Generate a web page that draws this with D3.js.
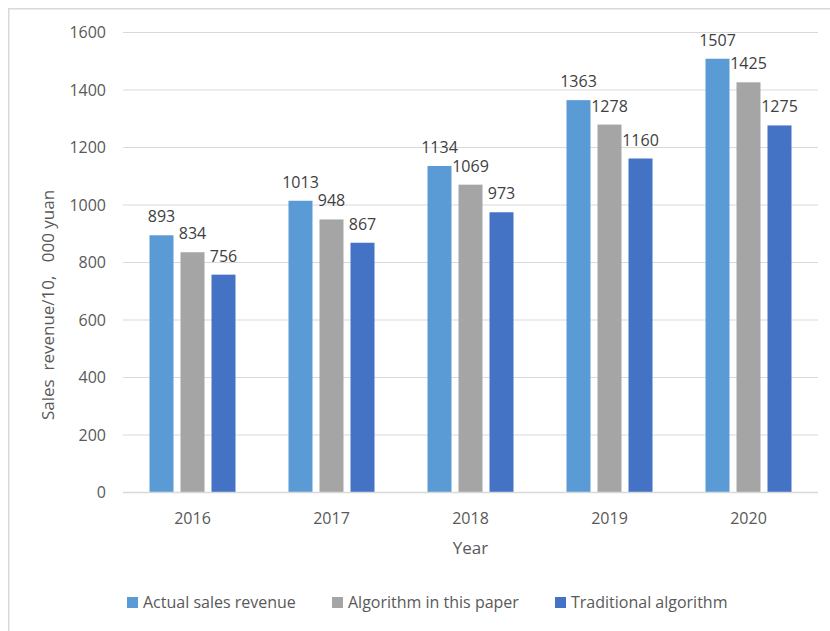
<!DOCTYPE html>
<html><head><meta charset="utf-8">
<script src="https://cdn.jsdelivr.net/npm/d3@7"></script>
<style>body{margin:0;background:#fff;} svg{display:block;font-family:"Open Sans",sans-serif;}</style>
</head><body>
<svg id="c" width="830" height="631"></svg>
<script>
const years = ["2016","2017","2018","2019","2020"];
const seriesNames = ["Actual sales revenue","Algorithm in this paper","Traditional algorithm"];
const actual = [893,1013,1134,1363,1507];
const algorithm = [834,948,1069,1278,1425];
const traditional = [756,867,973,1160,1275];
const yTicks = [0,200,400,600,800,1000,1200,1400,1600];
const colors = ["#5B9BD5","#A5A5A5","#4472C4"];

const seriesValues = [actual, algorithm, traditional];
const svg = d3.select("#c");
// chart frame
svg.append("rect").attr("x",8.75).attr("y",8.75).attr("width",900).attr("height",700)
  .attr("fill","none").attr("stroke","#d9d9d9").attr("stroke-width",1.5);

const pLeft=123, pRight=818, pTop=32, pBottom=492;
const y = d3.scaleLinear().domain([0,1600]).range([pBottom,pTop]);
const p = 53/139;
const x0 = d3.scaleBand().domain(years).range([pLeft,pRight]).paddingInner(p).paddingOuter(p/2);
const x1 = d3.scaleBand().domain(seriesNames).range([0,x0.bandwidth()]).paddingInner(0.226);

// gridlines
svg.append("g").selectAll("line").data(yTicks).join("line")
  .attr("x1",pLeft).attr("x2",pRight).attr("y1",d=>y(d)+0.5).attr("y2",d=>y(d)+0.5)
  .attr("stroke","#d9d9d9").attr("stroke-width",1);
// y tick labels
svg.append("g").selectAll("text").data(yTicks).join("text")
  .attr("x",106).attr("y",d=>y(d)+6).attr("text-anchor","end")
  .attr("font-size",16).attr("fill","#595959").text(d=>d);

// bars
const groups = svg.append("g").selectAll("g").data(years).join("g")
  .attr("transform",d=>`translate(${x0(d)},0)`);
groups.selectAll("rect").data((d,i)=>seriesNames.map((s,j)=>({s,j,v:seriesValues[j][i]}))).join("rect")
  .attr("x",d=>x1(d.s)).attr("width",x1.bandwidth())
  .attr("y",d=>y(d.v)).attr("height",d=>pBottom-y(d.v))
  .attr("fill",d=>colors[d.j]);
groups.selectAll("text").data((d,i)=>seriesNames.map((s,j)=>({s,j,v:seriesValues[j][i]}))).join("text")
  .attr("x",d=>x1(d.s)+x1.bandwidth()/2).attr("y",d=>y(d.v)-13)
  .attr("text-anchor","middle").attr("font-size",16).attr("fill","#404040").text(d=>d.v);

// axis line
svg.append("line").attr("x1",pLeft).attr("x2",pRight).attr("y1",pBottom+0.5).attr("y2",pBottom+0.5)
  .attr("stroke","#d9d9d9").attr("stroke-width",1.5);

// x labels
svg.append("g").selectAll("text").data(years).join("text")
  .attr("x",d=>x0(d)+x0.bandwidth()/2).attr("y",524).attr("text-anchor","middle")
  .attr("font-size",16).attr("fill","#595959").text(d=>d);

// axis titles
svg.append("text").attr("x",(pLeft+pRight)/2).attr("y",554).attr("text-anchor","middle")
  .attr("font-size",17).attr("fill","#595959").text("Year");
svg.append("text").attr("transform",`translate(54,305) rotate(-90)`)
  .attr("text-anchor","middle").attr("font-size",17).attr("fill","#595959")
  .style("white-space","pre")
  .text("Sales  revenue/10,   000 yuan");

// legend
const legX = [127,332,555];
const leg = svg.append("g").selectAll("g").data(seriesNames).join("g")
  .attr("transform",(d,i)=>`translate(${legX[i]},597)`);
leg.append("rect").attr("width",11).attr("height",11).attr("fill",(d,i)=>colors[i]);
leg.append("text").attr("x",16).attr("y",11).attr("font-size",16).attr("fill","#595959").text(d=>d);
</script>
</body></html>
